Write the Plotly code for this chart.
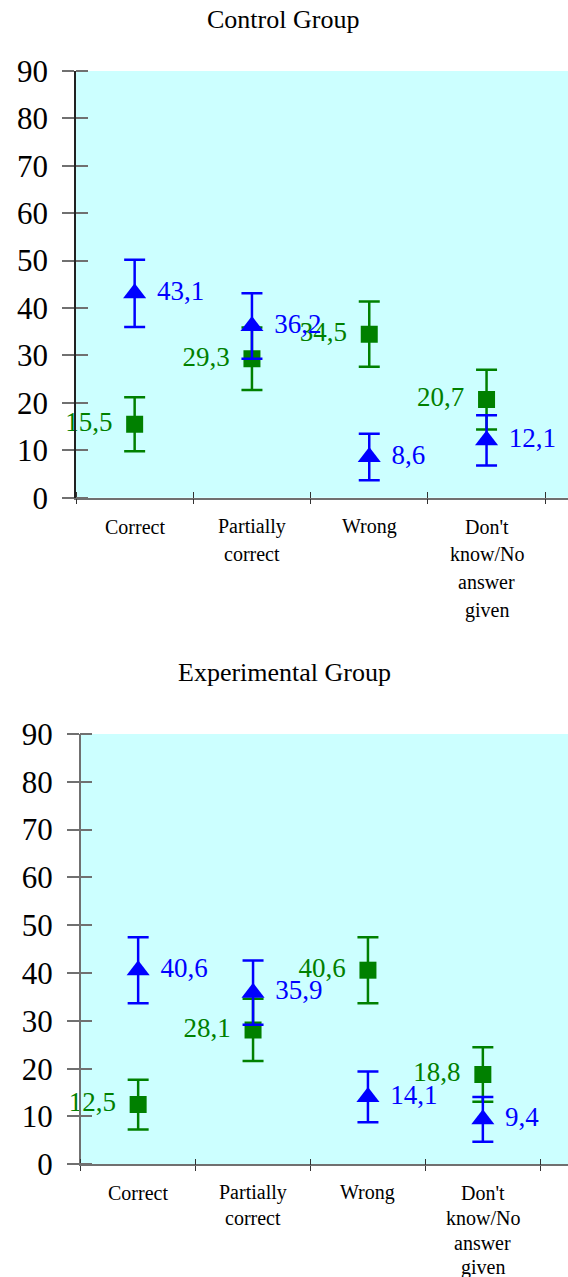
import plotly.graph_objects as go

categories = ["Correct", "Partially\ncorrect", "Wrong", "Don't\nknow/No\nanswer\ngiven"]
y_ticks = [0, 10, 20, 30, 40, 50, 60, 70, 80, 90]

control_green = [15.5, 29.3, 34.5, 20.7]
control_green_err = [5.7, 6.6, 6.9, 6.3]
control_blue = [43.1, 36.2, 8.6, 12.1]
control_blue_err = [7.1, 6.9, 4.9, 5.3]

exp_green = [12.5, 28.1, 40.6, 18.8]
exp_green_err = [5.2, 6.5, 6.9, 5.7]
exp_blue = [40.6, 35.9, 14.1, 9.4]
exp_blue_err = [6.9, 6.7, 5.3, 4.7]

GREEN = "#008000"
BLUE = "#0000FF"
FONT = "Liberation Serif, Times New Roman, serif"

def fmt(v):
    return f"{v:.1f}".replace(".", ",")

xpos = list(range(len(categories)))
fig = go.Figure()

panels = [
    ("x", "y", control_green, control_green_err, control_blue, control_blue_err),
    ("x2", "y2", exp_green, exp_green_err, exp_blue, exp_blue_err),
]
for xa, ya, g, ge, b, be in panels:
    fig.add_trace(go.Scatter(
        x=xpos, y=g, xaxis=xa, yaxis=ya, mode="markers",
        marker=dict(symbol="square", size=17, color=GREEN),
        error_y=dict(type="data", array=ge, color=GREEN, thickness=2.5, width=10.5),
        showlegend=False, hoverinfo="skip"))
    fig.add_trace(go.Scatter(
        x=xpos, y=b, xaxis=xa, yaxis=ya, mode="markers",
        marker=dict(symbol="triangle-up", size=20, color=BLUE),
        error_y=dict(type="data", array=be, color=BLUE, thickness=2.5, width=10.5),
        showlegend=False, hoverinfo="skip"))
    # value labels (invisible markers only set the text offset)
    fig.add_trace(go.Scatter(
        x=xpos, y=g, xaxis=xa, yaxis=ya, mode="markers+text",
        marker=dict(size=34, color="rgba(0,0,0,0)"),
        text=[fmt(v) for v in g], textposition="middle left",
        textfont=dict(family=FONT, size=27, color=GREEN),
        showlegend=False, hoverinfo="skip", cliponaxis=False))
    fig.add_trace(go.Scatter(
        x=xpos, y=b, xaxis=xa, yaxis=ya, mode="markers+text",
        marker=dict(size=34, color="rgba(0,0,0,0)"),
        text=[fmt(v) for v in b], textposition="middle right",
        textfont=dict(family=FONT, size=27, color=BLUE),
        showlegend=False, hoverinfo="skip", cliponaxis=False))

bounds = [i - 0.5 for i in range(len(categories) + 1)]

def xaxis(domain, rng, anchor):
    return dict(domain=domain, range=rng, anchor=anchor, showgrid=False, zeroline=False,
                automargin=False,
                showline=True, linecolor="#707070", linewidth=1.5,
                tickmode="array", tickvals=bounds, ticks="outside", ticklen=5,
                tickcolor="#333333", tickwidth=1.2, showticklabels=False,
                minor=dict(tickvals=bounds, ticks="inside", ticklen=6,
                           tickcolor="#333333", tickwidth=1.2))

def yaxis(domain, anchor, linecolor):
    return dict(domain=domain, range=[0, 90], anchor=anchor, showgrid=False, zeroline=False,
                automargin=False,
                showline=True, linecolor=linecolor, linewidth=1.5,
                tickmode="array", tickvals=y_ticks, ticks="outside", ticklen=12,
                tickcolor="#707070", tickwidth=2,
                tickfont=dict(family=FONT, size=31, color="black"),
                ticklabelstandoff=8,
                minor=dict(tickvals=y_ticks, ticks="inside", ticklen=12,
                           tickcolor="#707070", tickwidth=2))

H = 1277
top_dom = [1 - 497.7 / H, 1 - 71 / H]
bot_dom = [1 - 1164.3 / H, 1 - 734 / H]

fig.update_layout(
    width=568, height=H, margin=dict(l=0, r=0, t=0, b=0, pad=0),
    paper_bgcolor="white", plot_bgcolor="#CCFFFF",
    xaxis=xaxis([76 / 568, 1], [-0.5, -0.5 + 492 / 117.3], "y"),
    yaxis=yaxis(top_dom, "x", "#222222"),
    xaxis2=xaxis([80.7 / 568, 1], [-0.5, -0.5 + 487.3 / 114.9], "y2"),
    yaxis2=yaxis(bot_dom, "x2", "#707070"),
)

annotations = [
    dict(text="Control Group", x=283 / 568, y=1 - 19 / H, xref="paper", yref="paper",
         showarrow=False, font=dict(family=FONT, size=26, color="black"),
         xanchor="center", yanchor="middle"),
    dict(text="Experimental Group", x=284 / 568, y=1 - 672 / H, xref="paper", yref="paper",
         showarrow=False, font=dict(family=FONT, size=26, color="black"),
         xanchor="center", yanchor="middle"),
]
for xa, ya, first, step in [("x", "y", 29, 27.8), ("x2", "y2", 28.4, 25.0)]:
    for i, cat in enumerate(categories):
        for j, line in enumerate(cat.split("\n")):
            annotations.append(dict(
                text=line, x=i, y=0, xref=xa, yref=ya + " domain",
                yshift=-(first + j * step), showarrow=False,
                font=dict(family=FONT, size=20, color="black"),
                xanchor="center", yanchor="middle"))
fig.update_layout(annotations=annotations)

fig.write_html("out.html")
